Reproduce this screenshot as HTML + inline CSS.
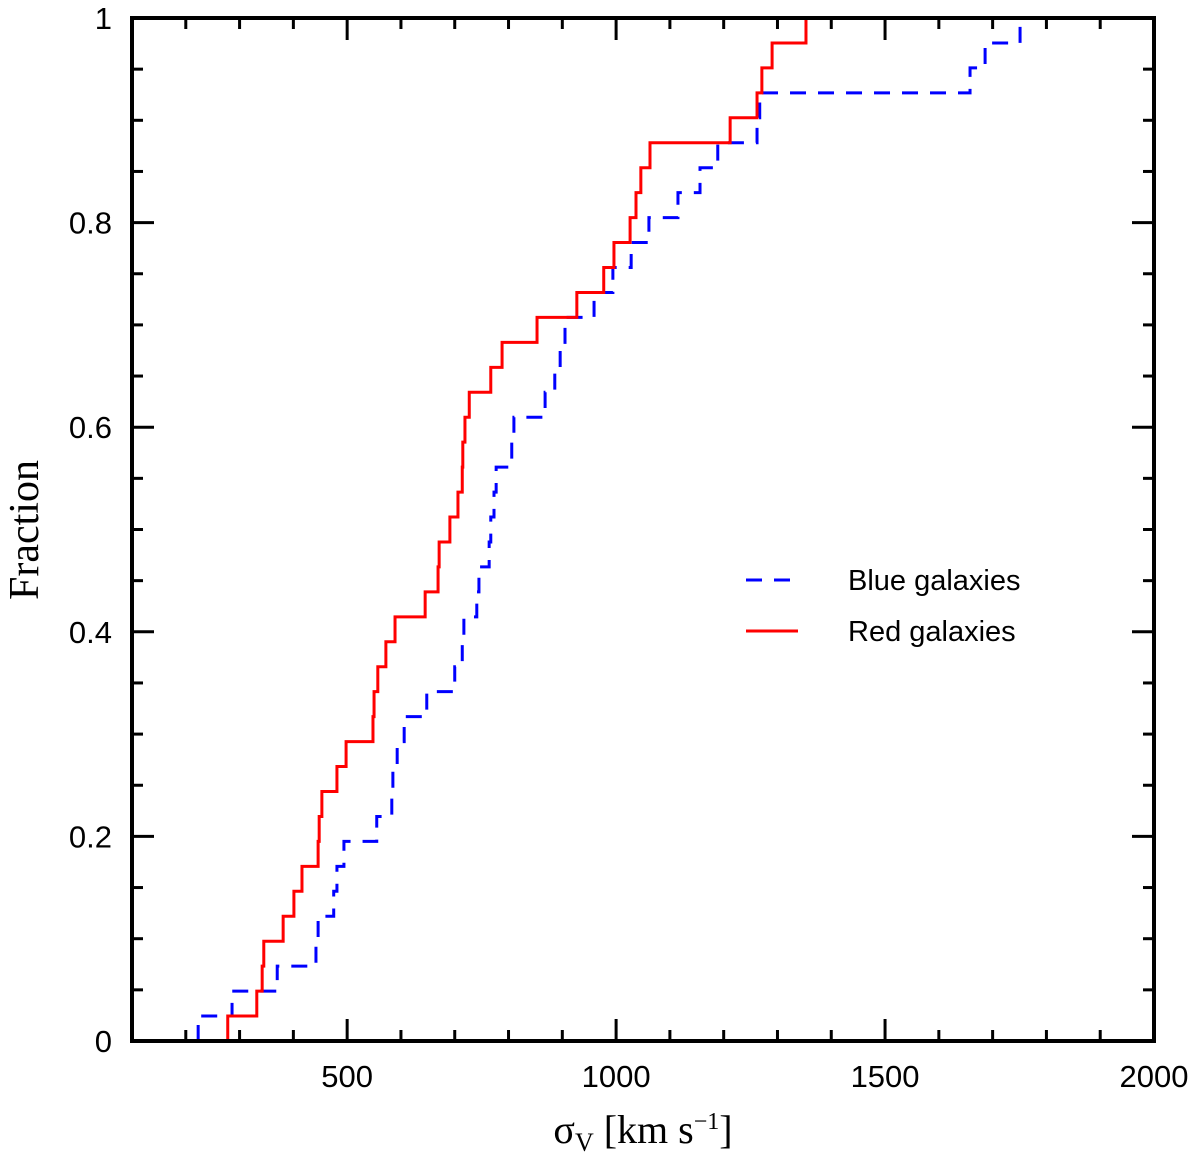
<!DOCTYPE html>
<html><head><meta charset="utf-8"><style>
html,body{margin:0;padding:0;background:#fff;}
svg{display:block;}
text{font-family:"Liberation Sans",sans-serif;}
</style></head><body>
<svg id="chart" width="1200" height="1158" viewBox="0 0 1200 1158">
<g id="marks"></g>
<g id="axes"></g>
<text x="643" y="1143" text-anchor="middle" style="font-family:'Liberation Serif',serif" font-size="40">σ<tspan font-size="26" dy="8">V</tspan><tspan dy="-8"> [km s</tspan><tspan font-size="24" dy="-14">−1</tspan><tspan dy="14">]</tspan></text>
<text transform="translate(38,530) rotate(-90)" text-anchor="middle" style="font-family:'Liberation Serif',serif" font-size="42">Fraction</text>
<g>
<line x1="746" y1="580" x2="792" y2="580" stroke="#0000ff" stroke-width="3" stroke-dasharray="16,12"/>
<text x="848" y="590" font-size="29">Blue galaxies</text>
<line x1="746" y1="631" x2="798" y2="631" stroke="#ff0000" stroke-width="3"/>
<text x="848" y="641" font-size="29">Red galaxies</text>
</g>
</svg>
<script>
const redValues=[278,332,342,345,381,401,416,446,448,453,481,498,548,550,557,572,589,645,669,671,691,706,714,715,719,727,767,788,853,927,977,996,1026,1037,1046,1063,1212,1262,1271,1290,1353];
const blueValues=[223,286,370,442,446,475,481,494,555,583,585,593,606,648,700,714,717,741,745,764,767,773,777,806,810,868,886,896,905,959,994,1028,1061,1115,1156,1189,1262,1267,1658,1686,1751];
const xTicks=[500,1000,1500,2000];
const xTickLabels=["500","1000","1500","2000"];
const yTicks=[0,0.2,0.4,0.6,0.8,1];
const yTickLabels=["0","0.2","0.4","0.6","0.8","1"];
const X0=132,X1=1154,Y0=1041,Y1=18,XMIN=100,XMAX=2000;
function sx(v){return X0+(v-XMIN)/(XMAX-XMIN)*(X1-X0);}
function sy(v){return Y0-v*(Y0-Y1);}
const NS="http://www.w3.org/2000/svg";
const marks=document.getElementById('marks'),axes=document.getElementById('axes');
function stepPath(vals){
  const n=vals.length;let d="M"+sx(vals[0])+","+sy(0);
  for(let i=0;i<n;i++){d+=" V"+sy((i+1)/n);if(i<n-1)d+=" H"+sx(vals[i+1]);}
  return d;
}
const pb=document.createElementNS(NS,'path');
pb.setAttribute('d',stepPath(blueValues));pb.setAttribute('fill','none');pb.setAttribute('stroke','#0000ff');pb.setAttribute('stroke-width','3');pb.setAttribute('stroke-dasharray','16,12');


marks.appendChild(pb);
const pr=document.createElementNS(NS,'path');
pr.setAttribute('d',stepPath(redValues));pr.setAttribute('fill','none');pr.setAttribute('stroke','#ff0000');pr.setAttribute('stroke-width','3');


marks.appendChild(pr);
function line(x1,y1,x2,y2,w){const l=document.createElementNS(NS,'line');l.setAttribute('x1',x1);l.setAttribute('y1',y1);l.setAttribute('x2',x2);l.setAttribute('y2',y2);l.setAttribute('stroke','#000');l.setAttribute('stroke-width',w);axes.appendChild(l);return l;}
const fr=document.createElementNS(NS,'rect');
fr.setAttribute('x',X0);fr.setAttribute('y',Y1);fr.setAttribute('width',X1-X0);fr.setAttribute('height',Y0-Y1);fr.setAttribute('fill','none');fr.setAttribute('stroke','#000');fr.setAttribute('stroke-width','4');


axes.appendChild(fr);
for(let v=200;v<2000;v+=100){const L=(v%500===0)?22:11;
  const a=line(sx(v),Y0,sx(v),Y0-L,3);
  const b=line(sx(v),Y1,sx(v),Y1+L,3);}
for(let k=1;k<20;k++){const v=k*0.05;const L=(k%4===0)?22:11;
  const a=line(X0,sy(v),X0+L,sy(v),3);
  const b=line(X1,sy(v),X1-L,sy(v),3);}
xTicks.forEach((v,i)=>{const t=document.createElementNS(NS,'text');t.setAttribute('x',sx(v));t.setAttribute('y',1087);t.setAttribute('text-anchor','middle');t.setAttribute('font-size','31');t.textContent=xTickLabels[i];
  
  
  axes.appendChild(t);});
yTicks.forEach((v,i)=>{const t=document.createElementNS(NS,'text');t.setAttribute('x',112);t.setAttribute('y',sy(v)+11);t.setAttribute('text-anchor','end');t.setAttribute('font-size','31');t.textContent=yTickLabels[i];
  
  
  axes.appendChild(t);});
</script>
</body></html>
